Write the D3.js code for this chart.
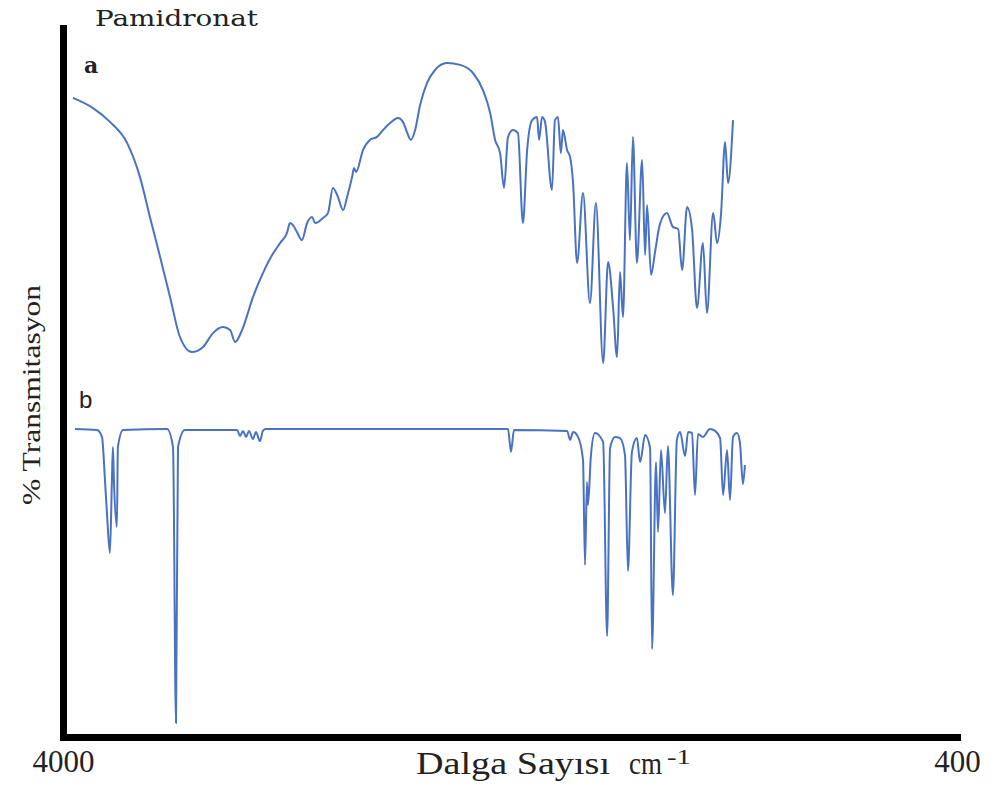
<!DOCTYPE html>
<html>
<head>
<meta charset="utf-8">
<script src="https://cdn.jsdelivr.net/npm/d3@7"></script>
<style>
  body { margin: 0; background: #fff; }
  svg { display: block; }
</style>
</head>
<body>
<svg id="chart" width="991" height="790"></svg>
<script>
// Axis end labels (wavenumber, cm-1)
const xTicks = [4000, 400];

// Spectrum a: measured pamidronate, wavenumber (cm-1) and % transmittance
const aWave = [3960, 3879, 3811, 3742, 3690, 3650, 3609, 3569, 3529, 3481,
  3436, 3396, 3356, 3327, 3307, 3279, 3235, 3195, 3158, 3126,
  3098, 3086, 3074, 3058, 3038, 3017, 2997, 2985, 2973, 2953,
  2933, 2913, 2893, 2872, 2856, 2836, 2828, 2820, 2792, 2764,
  2736, 2711, 2683, 2651, 2631, 2615, 2599, 2582, 2562, 2534,
  2502, 2454, 2401, 2349, 2309, 2280, 2260, 2240, 2224, 2208,
  2188, 2168, 2148, 2131, 2111, 2091, 2083, 2071, 2059, 2031,
  2019, 2007, 1995, 1987, 1970, 1958, 1946, 1930, 1906, 1878,
  1854, 1825, 1805, 1785, 1769, 1757, 1745, 1729, 1717, 1705,
  1689, 1668, 1656, 1648, 1632, 1616, 1596, 1568, 1544, 1523,
  1507, 1487, 1467, 1447, 1423, 1407, 1382, 1366, 1350, 1334,
  1322, 1302];
const aT = [90.7, 87.3, 82.7, 75.7, 64.3, 51, 37.7, 24.3, 11, 6,
  7.7, 12.3, 14.3, 13.3, 9.3, 13.3, 24.3, 32.3, 38.3, 42.3,
  45.7, 49, 48.3, 46, 43.3, 49, 51, 49, 49.3, 50.7,
  52.3, 60.7, 57.7, 53.3, 57.7, 64.3, 67.3, 66, 73.3, 76.7,
  77.7, 80, 82.3, 84, 82.7, 79.3, 76.7, 80, 88.3, 95.7,
  100, 102.3, 101.7, 99, 93.3, 85.7, 76.7, 72.3, 60.7, 77.7,
  80, 79, 49, 73.3, 83.3, 84.3, 76.7, 84.3, 82.7, 60,
  83.3, 84.3, 72.3, 80, 73.3, 71, 62.3, 35.7, 59, 22.3,
  55.7, 2.3, 36, 21, 4.3, 32.7, 17.7, 69, 43.3, 77.7,
  35.7, 70, 38.3, 55, 31.7, 39.3, 48.7, 52.3, 47.7, 47,
  33.3, 54.3, 47, 20.7, 42.3, 19, 52.3, 42.3, 52.3, 76,
  62.3, 83.3];

// Spectrum b: reference pamidronate, wavenumber (cm-1) and % transmittance
const bWave = [3952, 3863, 3843, 3831, 3823, 3811, 3803, 3799, 3795, 3783,
  3779, 3758, 3581, 3557, 3545, 3537, 3509, 3299, 3287, 3275,
  3263, 3251, 3235, 3223, 3207, 3195, 3183, 2321, 2208, 2196,
  2184, 1970, 1958, 1946, 1926, 1906, 1898, 1890, 1886, 1874,
  1858, 1825, 1809, 1797, 1777, 1757, 1737, 1725, 1709, 1689,
  1676, 1656, 1636, 1628, 1612, 1604, 1592, 1576, 1564, 1544,
  1528, 1515, 1495, 1483, 1467, 1455, 1443, 1423, 1395, 1374,
  1354, 1342, 1326, 1314, 1302, 1286, 1274, 1262, 1254];
const bT = [100.3, 100, 97.7, 83.3, 72.3, 59, 83.3, 94.3, 83.3, 67.7,
  94.3, 100, 100.3, 94.3, 2.3, 94.3, 100, 100, 98, 99.7,
  97.7, 99.7, 97, 99.3, 96.3, 99.7, 100.3, 100.3, 100.3, 92.7,
  100, 99.7, 96.7, 99.3, 97.7, 90, 55, 82.7, 75, 91.7,
  99, 96, 31.3, 94, 97.7, 97.3, 91.7, 53, 92.7, 97.3,
  89.3, 98.3, 94, 27, 89.3, 66, 93.3, 72.3, 94.7, 45,
  96.7, 99.3, 91.3, 99.3, 99, 78.3, 98.7, 97.7, 100.3, 99.7,
  97.3, 78.3, 93.3, 76.7, 97.7, 99, 95.7, 82, 88.3];

const svg = d3.select("#chart");

const x = d3.scaleLinear().domain([4000, 400]).range([63, 957]);
const yA = d3.scaleLinear().domain([0, 110]).range([370, 40]);
const yB = d3.scaleLinear().domain([0, 110]).range([730, 400]);
const yFrame = d3.scaleLinear().domain([0, 1]).range([737, 28]);

const lineColor = "#4a72c2";
const serif = "'Liberation Serif', 'Times New Roman', serif";

function drawSpectrum(waves, values, y) {
  const pts = waves.map((w, i) => [w, values[i]]);
  const line = d3.line()
    .x(d => x(d[0]))
    .y(d => y(d[1]))
    .curve(d3.curveMonotoneX);
  svg.append("path")
    .datum(pts)
    .attr("d", line)
    .attr("fill", "none")
    .attr("stroke", lineColor)
    .attr("stroke-width", 2)
    .attr("stroke-linejoin", "round");
}

drawSpectrum(aWave, aT, yA);
drawSpectrum(bWave, bT, yB);

// Frame axes: thick black lines, end labels only on the wavenumber axis
const xAxis = d3.axisBottom(x)
  .tickValues(xTicks)
  .tickFormat(d3.format("d"))
  .tickSize(0).tickSizeOuter(0).tickPadding(13);
const gx = svg.append("g").attr("transform", "translate(0,737)").call(xAxis);
gx.select(".domain").attr("stroke", "#000").attr("stroke-width", 7).attr("stroke-linecap", "square");
gx.selectAll(".tick text")
  .attr("font-family", serif)
  .attr("font-size", 31)
  .attr("fill", "#222")
  .attr("dy", "0.71em");

const yAxis = d3.axisLeft(yFrame).tickValues([]).tickSizeOuter(0);
const gy = svg.append("g").attr("transform", "translate(63,0)").call(yAxis);
gy.select(".domain").attr("stroke", "#000").attr("stroke-width", 7).attr("stroke-linecap", "square");

svg.append("text")
  .attr("x", 95).attr("y", 26)
  .attr("font-family", "'DejaVu Serif', serif")
  .attr("font-size", 23)
  .attr("fill", "#222")
  .attr("textLength", 163)
  .attr("lengthAdjust", "spacingAndGlyphs")
  .text("Pamidronat");

svg.append("text")
  .attr("x", 84).attr("y", 73)
  .attr("font-family", "'DejaVu Serif', serif")
  .attr("font-weight", "bold")
  .attr("font-size", 22)
  .attr("fill", "#222")
  .text("a");

svg.append("text")
  .attr("x", 79).attr("y", 408)
  .attr("font-family", "'Liberation Sans', Arial, sans-serif")
  .attr("font-size", 24)
  .attr("fill", "#222")
  .text("b");

// Axis title: "Dalga Sayısı  cm -1"
const titleParts = [
  { text: "Dalga Sayısı", x: 416, y: 774, size: 31, len: 194 },
  { text: "cm", x: 629, y: 774, size: 31, len: 33 },
  { text: "-1", x: 667, y: 764, size: 21, len: 24 }
];
svg.selectAll("text.xtitle")
  .data(titleParts)
  .join("text")
  .attr("class", "xtitle")
  .attr("x", d => d.x).attr("y", d => d.y)
  .attr("font-family", serif)
  .attr("font-size", d => d.size)
  .attr("fill", "#222")
  .attr("textLength", d => d.len)
  .attr("lengthAdjust", "spacingAndGlyphs")
  .text(d => d.text);

svg.append("text")
  .attr("transform", "translate(40,395) rotate(-90)")
  .attr("text-anchor", "middle")
  .attr("font-family", serif)
  .attr("font-size", 25)
  .attr("fill", "#222")
  .attr("textLength", 220)
  .attr("lengthAdjust", "spacingAndGlyphs")
  .text("% Transmitasyon");
</script>
</body>
</html>
